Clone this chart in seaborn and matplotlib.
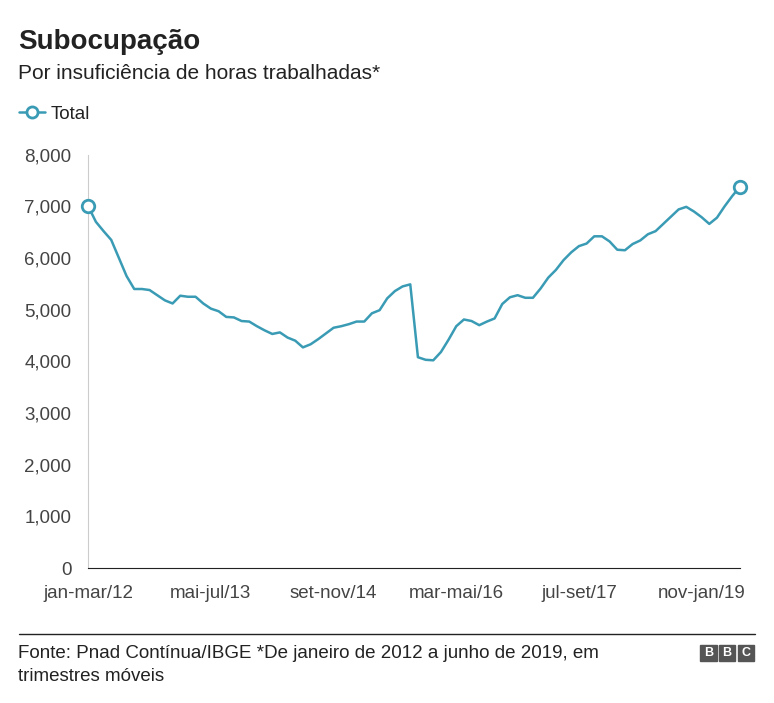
import matplotlib
matplotlib.use("Agg")
import matplotlib.pyplot as plt
import seaborn as sns
import pandas as pd
import numpy as np
from matplotlib.patches import Rectangle

values = [7000,6700,6520,6350,6000,5650,5400,5400,5380,5280,5180,5120,5270,5250,5250,5120,
          5020,4970,4860,4850,4780,4770,4680,4600,4530,4560,4460,4400,4270,4330,4430,4540,
          4650,4680,4720,4770,4770,4930,4990,5220,5360,5450,5490,4080,4030,4020,4180,4420,
          4680,4810,4780,4700,4770,4830,5110,5240,5280,5230,5230,5410,5620,5770,5960,6110,
          6230,6280,6420,6420,6320,6160,6150,6270,6340,6460,6520,6660,6800,6940,6990,6900,
          6790,6660,6780,7000,7200,7380]
tick_pos = [0,16,32,48,64,80]
tick_labels = ["jan-mar/12","mai-jul/13","set-nov/14","mar-mai/16","jul-set/17","nov-jan/19"]
yticks = [0,1000,2000,3000,4000,5000,6000,7000,8000]

df = pd.DataFrame({"i": np.arange(len(values)), "v": values})
color = "#3a9bb5"

sns.set_style("white")
plt.rcParams['font.family'] = ['Liberation Sans', 'DejaVu Sans']
fig = plt.figure(figsize=(7.74, 7.03), dpi=100)
ax = fig.add_axes([0.114, 0.192, 0.842, 0.588])
sns.lineplot(data=df, x="i", y="v", color=color, linewidth=1.8, ax=ax)
ax.plot([0, len(values)-1], [values[0], values[-1]], 'o', ms=9, mfc='white', mec=color, mew=2, zorder=5, clip_on=False)
ax.set_ylim(0, 8000)
ax.set_xlim(0, len(values)-1)
ax.set_yticks(yticks)
ax.set_yticklabels([f"{v:,}" for v in yticks])
ax.set_xticks(tick_pos)
ax.set_xticklabels(tick_labels)
ax.tick_params(labelsize=13.5, colors="#444444", length=0)
ax.tick_params(axis='x', pad=12)
ax.tick_params(axis='y', pad=12)
ax.set_xlabel(""); ax.set_ylabel("")
for s in ["top", "right"]:
    ax.spines[s].set_visible(False)
ax.spines["left"].set_color("#cccccc")
ax.spines["bottom"].set_color("#222222")

fig.text(0.023, 0.93, "Subocupação", fontsize=20, fontweight='bold', color='#222222')
fig.text(0.023, 0.887, "Por insuficiência de horas trabalhadas*", fontsize=15, color='#222222')
fig.lines.append(plt.Line2D([0.025, 0.058], [0.840, 0.840], color=color, lw=1.8, transform=fig.transFigure))
fig.lines.append(plt.Line2D([0.041], [0.840], marker='o', ms=8, mfc='white', mec=color, mew=2, transform=fig.transFigure))
fig.text(0.066, 0.831, "Total", fontsize=13.5, color='#222222')

fig.lines.append(plt.Line2D([0.025, 0.975], [0.098, 0.098], color='#222222', lw=1, transform=fig.transFigure))
fig.text(0.023, 0.064, "Fonte: Pnad Contínua/IBGE *De janeiro de 2012 a junho de 2019, em", fontsize=13.5, color='#222222')
fig.text(0.023, 0.032, "trimestres móveis", fontsize=13.5, color='#222222')
for k, ch in enumerate("BBC"):
    x0 = 0.905 + k*0.024
    fig.patches.append(Rectangle((x0, 0.060), 0.021, 0.023, color='#555555', transform=fig.transFigure))
    fig.text(x0+0.0105, 0.0715, ch, fontsize=9, fontweight='bold', color='white', ha='center', va='center')

fig.savefig("out.png", dpi=100)
